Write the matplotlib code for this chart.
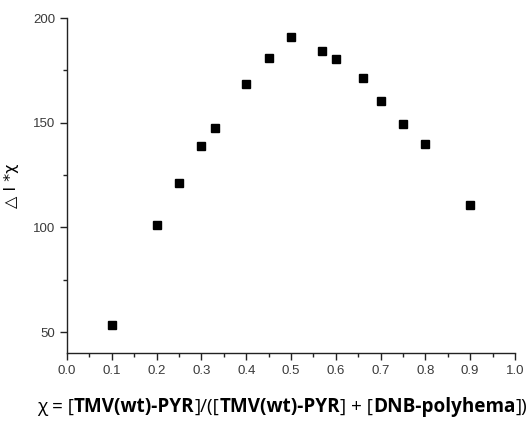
import matplotlib
matplotlib.use("Agg")
import matplotlib.pyplot as plt
from matplotlib.offsetbox import TextArea, HPacker, AnchoredOffsetbox
from matplotlib.ticker import MultipleLocator, FormatStrFormatter

x_vals = [0.1, 0.2, 0.25, 0.3, 0.33, 0.4, 0.45, 0.5, 0.57, 0.6, 0.66, 0.7, 0.75, 0.8, 0.9]
y_vals = [53.6, 101.3, 121.2, 139.1, 147.7, 168.4, 181.0, 190.8, 184.4, 180.4, 171.3, 160.3, 149.6, 139.7, 110.9]

fig = plt.figure(figsize=(5.29, 4.22), dpi=100)
ax = fig.add_axes([0.1267, 0.1635, 0.8468, 0.7938])
ax.plot(x_vals, y_vals, linestyle='none', marker='s', markersize=5.3, color='black')

ax.set_xlim(0, 1.0)
ax.set_ylim(40, 200)
ax.xaxis.set_major_locator(MultipleLocator(0.1))
ax.xaxis.set_minor_locator(MultipleLocator(0.05))
ax.xaxis.set_major_formatter(FormatStrFormatter('%.1f'))
ax.yaxis.set_major_locator(MultipleLocator(50))
ax.yaxis.set_minor_locator(MultipleLocator(25))
ax.spines['top'].set_visible(False)
ax.spines['right'].set_visible(False)
for s in ('left', 'bottom'):
    ax.spines[s].set_linewidth(1.0)
    ax.spines[s].set_color('#222222')
ax.tick_params(which='major', direction='out', length=5, width=1, color='#222222',
               labelsize=9.5, labelcolor='#3a3a3a')
ax.tick_params(which='minor', direction='out', length=3, width=1, color='#222222')
for lab in ax.get_xticklabels() + ax.get_yticklabels():
    lab.set_family('Liberation Sans')

ax.set_ylabel('△ I *χ', fontsize=11.5, family=['DejaVu Sans'], labelpad=10)

fs = 13.6
fam = 'Open Sans'
parts = [("χ = [", 'normal'), ("TMV(wt)-PYR", 'bold'), ("]/([", 'normal'),
         ("TMV(wt)-PYR", 'bold'), ("] + [", 'normal'), ("DNB-polyhema", 'bold'), ("])", 'normal')]
boxes = [TextArea(t, textprops=dict(fontsize=fs, fontweight=w, family=[fam, 'DejaVu Sans'], color='black'))
         for t, w in parts]
pack = HPacker(children=boxes, align='baseline', pad=0, sep=0)
anch = AnchoredOffsetbox(loc='center', child=pack, frameon=False,
                         bbox_to_anchor=(282 / 529, 1 - 407 / 422), bbox_transform=fig.transFigure,
                         borderpad=0, pad=0)
fig.add_artist(anch)

fig.savefig('out.png', dpi=100)
